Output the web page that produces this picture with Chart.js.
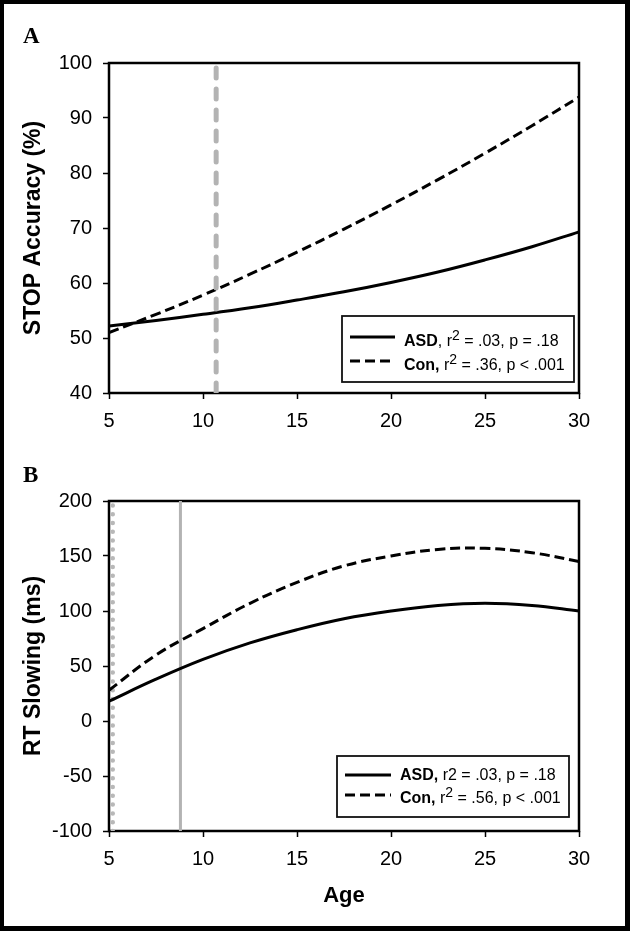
<!DOCTYPE html>
<html lang="en">
<head>
<meta charset="UTF-8">
<title>STOP Accuracy and RT Slowing by Age</title>
<script src="https://cdn.jsdelivr.net/npm/chart.js"></script>
<style>
  body { margin: 0; background: #fff; }
  #page { position: relative; width: 630px; height: 931px; overflow: hidden; background: #fff; }
  #frame { position: absolute; left: 0; top: 0; width: 630px; height: 931px; box-sizing: border-box; border: 4px solid #000; border-right-width: 5px; border-bottom-width: 5px; pointer-events: none; }
  canvas { position: absolute; left: 0; }
  .letter { position: absolute; left: 23px; font-family: "Liberation Serif", "Times New Roman", serif; font-weight: bold; font-size: 23px; line-height: 1; }
</style>
</head>
<body>
<div id="page">
  <canvas id="chartA" width="630" height="465" style="top:0"></canvas>
  <canvas id="chartB" width="630" height="471" style="top:460px"></canvas>
  <div class="letter" style="top:24px">A</div>
  <div class="letter" style="top:463px">B</div>
  <div id="frame"></div>
</div>

<script>
const ages = [5, 7.5, 10, 12.5, 15, 17.5, 20, 22.5, 25, 27.5, 30];

// panel A: STOP accuracy (%)
const stopASD = [52.2, 53.2, 54.3, 55.5, 56.9, 58.4, 60.1, 62.0, 64.2, 66.6, 69.3];
const stopCon = [51.0, 54.3, 57.8, 61.6, 65.6, 69.8, 74.2, 78.8, 83.6, 88.6, 93.8];

// panel B: RT slowing (ms)
const rtASD = [18, 38, 56, 71, 83, 93, 100, 105, 107, 105, 100];
const rtCon = [28, 60, 84, 107, 126, 141, 150, 156, 157, 153, 145];

// reference lines (age)
const stopCutAge = 10.7;
const rtDotAge = 5.2;
const rtSolidAge = 8.8;

// axis ranges / ticks
const xRange = [5, 30], xStep = 5;
const yRangeA = [40, 100], yStepA = 10;
const yRangeB = [-100, 200], yStepB = 50;

Chart.defaults.color = '#000';
Chart.defaults.font.family = '"Liberation Sans", Arial, sans-serif';

const pts = (xs, ys) => xs.map((x, i) => ({ x: x, y: ys[i] }));
const vline = (x, yr) => [{ x: x, y: yr[0] }, { x: x, y: yr[1] }];

// box round the plot area
const framePlugin = {
  id: 'frame',
  beforeDatasetsDraw(chart) {
    const a = chart.chartArea, ctx = chart.ctx;
    ctx.save();
    ctx.strokeStyle = '#000';
    ctx.lineWidth = 2.5;
    ctx.strokeRect(a.left, a.top, a.right - a.left, a.bottom - a.top);
    ctx.restore();
  }
};

// legend with bold names and superscript 2
const legendPlugin = {
  id: 'fitLegend',
  afterDraw(chart, args, opts) {
    if (!opts.box) return;
    const ctx = chart.ctx;
    const [bx, by, bw, bh] = opts.box;
    ctx.save();
    ctx.strokeStyle = '#111';
    ctx.lineWidth = 1.8;
    ctx.strokeRect(bx, by, bw, bh);
    opts.rows.forEach(row => {
      ctx.beginPath();
      ctx.setLineDash(row.dash);
      ctx.lineWidth = 3;
      ctx.strokeStyle = '#000';
      ctx.moveTo(opts.lineX[0], row.lineY);
      ctx.lineTo(opts.lineX[1], row.lineY);
      ctx.stroke();
      ctx.setLineDash([]);
      let x = opts.textX;
      ctx.fillStyle = '#000';
      ctx.textBaseline = 'alphabetic';
      row.parts.forEach(p => {
        const size = p.sup ? 14 : 16;
        ctx.font = (p.bold ? 'bold ' : '') + size + 'px "Liberation Sans", Arial, sans-serif';
        ctx.fillText(p.t, x, row.baseY - (p.sup ? 6 : 0));
        x += ctx.measureText(p.t).width;
      });
    });
    ctx.restore();
  }
};

function makeChart(id, cfg) {
  return new Chart(document.getElementById(id), {
    type: 'scatter',
    data: { datasets: cfg.datasets },
    options: {
      responsive: false,
      animation: false,
      layout: { padding: { left: 0, right: 51, top: cfg.top, bottom: 0 } },
      plugins: {
        legend: { display: false },
        tooltip: { enabled: false },
        fitLegend: cfg.legend
      },
      elements: { point: { radius: 0 } },
      scales: {
        x: {
          type: 'linear', min: xRange[0], max: xRange[1],
          ticks: { stepSize: xStep, font: { size: 20 }, padding: 10 },
          grid: { drawOnChartArea: false, drawTicks: true, tickLength: 6, tickWidth: 1.5, tickColor: '#000' },
          border: { display: false },
          title: cfg.xTitle ? { display: true, text: cfg.xTitle, font: { size: 22, weight: 'bold' }, padding: { bottom: 22 } } : { display: false },
          afterFit: s => { s.height = cfg.xHeight; }
        },
        y: {
          min: cfg.yRange[0], max: cfg.yRange[1],
          ticks: { stepSize: cfg.yStep, font: { size: 20 }, padding: 11 },
          grid: { drawOnChartArea: false, drawTicks: true, tickLength: 6, tickWidth: 1.5, tickColor: '#000' },
          border: { display: false },
          title: { display: true, text: cfg.yTitle, font: { size: 23, weight: 'bold' }, padding: { top: 20 } },
          afterFit: s => { s.width = 109; }
        }
      }
    },
    plugins: [framePlugin, legendPlugin]
  });
}

const line = (label, data, dash, order) => ({
  label: label, data: data, showLine: true, borderColor: '#000', borderWidth: 3,
  borderDash: dash, tension: 0.4, pointRadius: 0, order: order
});

makeChart('chartA', {
  top: 63, xHeight: 72, yRange: yRangeA, yStep: yStepA,
  yTitle: 'STOP Accuracy (%)',
  datasets: [
    { label: 'cut', data: vline(stopCutAge, yRangeA), showLine: true, borderColor: '#b3b3b3',
      borderWidth: 5, borderDash: [10, 11], borderCapStyle: 'round', pointRadius: 0, order: 0 },
    line('ASD', pts(ages, stopASD), [], 1),
    line('Con', pts(ages, stopCon), [10, 5], 1)
  ],
  legend: {
    box: [342, 316, 232, 66], lineX: [350, 395], textX: 404,
    rows: [
      { lineY: 337, baseY: 346, dash: [], parts: [{ t: 'ASD', bold: true }, { t: ', r' }, { t: '2', sup: true }, { t: ' = .03, p = .18' }] },
      { lineY: 361, baseY: 370, dash: [10, 5], parts: [{ t: 'Con,', bold: true }, { t: ' r' }, { t: '2', sup: true }, { t: ' = .36, p < .001' }] }
    ]
  }
});

makeChart('chartB', {
  top: 41, xHeight: 100, yRange: yRangeB, yStep: yStepB,
  yTitle: 'RT Slowing (ms)', xTitle: 'Age',
  datasets: [
    line('ASD', pts(ages, rtASD), [], 0),
    line('Con', pts(ages, rtCon), [10, 5], 0),
    { label: 'dot', data: vline(rtDotAge, yRangeB), showLine: true, borderColor: '#b8b8b8',
      borderWidth: 4.5, borderDash: [0, 8.8], borderCapStyle: 'round', pointRadius: 0, order: 1 },
    { label: 'solid', data: vline(rtSolidAge, yRangeB), showLine: true, borderColor: '#b3b3b3',
      borderWidth: 3, pointRadius: 0, order: 1 }
  ],
  legend: {
    box: [337, 296, 232, 61], lineX: [345, 391], textX: 400,
    rows: [
      { lineY: 315, baseY: 320, dash: [], parts: [{ t: 'ASD,', bold: true }, { t: ' r2 = .03, p = .18' }] },
      { lineY: 335, baseY: 343, dash: [10, 5], parts: [{ t: 'Con,', bold: true }, { t: ' r' }, { t: '2', sup: true }, { t: ' = .56, p < .001' }] }
    ]
  }
});
</script>
</body>
</html>
